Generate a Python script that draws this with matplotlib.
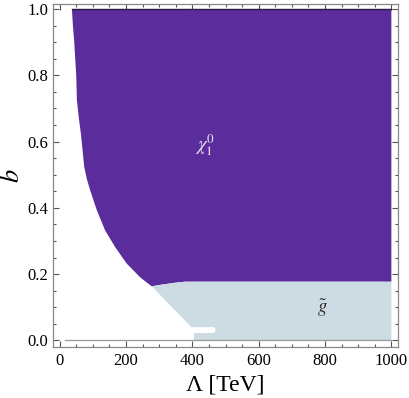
import matplotlib
matplotlib.use("Agg")
import matplotlib.pyplot as plt
from matplotlib.patches import Polygon
from matplotlib.ticker import MultipleLocator

plt.rcParams['font.family'] = ['Liberation Serif', 'DejaVu Serif']
plt.rcParams['mathtext.fontset'] = 'stix'

# Neutralino (chi_1^0) region: left boundary then bottom edge
chi_left_lam = [37, 40, 44, 50, 52, 58, 64, 69, 74, 82, 92, 112, 137, 167, 202, 242, 262, 278]
chi_left_b = [1.0, 0.95, 0.9, 0.8, 0.725, 0.67, 0.624, 0.575, 0.524, 0.487, 0.453, 0.393, 0.332, 0.282, 0.232, 0.191, 0.175, 0.163]
chi_bottom_lam = [278, 300, 341, 377, 1000]
chi_bottom_b = [0.163, 0.167, 0.173, 0.177, 0.177]

# Gluino region boundary (lower side, right to left)
gl_lower_lam = [1000, 405, 405, 462, 468, 470, 468, 462, 397, 278]
gl_lower_b = [0.0, 0.0, 0.022, 0.022, 0.024, 0.031, 0.038, 0.040, 0.040, 0.163]

purple = '#5b2c9c'
lightblue = '#cddbe2'

fig = plt.figure(figsize=(4.09, 3.98), dpi=100)
ax = fig.add_axes([53/409, 1-347/398, 345/409, 343/398])

chi_pts = list(zip(chi_left_lam, chi_left_b)) + list(zip(chi_bottom_lam[1:], chi_bottom_b[1:])) + [(1000, 1.0)]
ax.add_patch(Polygon(chi_pts, closed=True, facecolor=purple, edgecolor='none', zorder=2))
ax.plot([chi_left_lam[0], 1000], [1.0, 1.0], color='#2b1a45', lw=1.0, zorder=3)

gl_pts = list(zip(chi_bottom_lam, chi_bottom_b)) + list(zip(gl_lower_lam, gl_lower_b))
ax.add_patch(Polygon(gl_pts, closed=True, facecolor=lightblue, edgecolor='none', zorder=2))
ax.plot([17, 1000], [0.0, 0.0], color='#9a9a9a', lw=0.9, zorder=3)

ax.text(438, 0.59, r'$\chi_1^0$', color='#ece6f4', fontsize=13.5, ha='center', va='center', zorder=4)
ax.text(793, 0.097, r'$\tilde{g}$', color='#333333', fontsize=13.5, ha='center', va='center', zorder=4)

ax.set_xlim(-20, 1020)
ax.set_ylim(-0.02, 1.015)
ax.xaxis.set_minor_locator(MultipleLocator(50))
ax.yaxis.set_minor_locator(MultipleLocator(0.05))
ax.set_xticks([0, 200, 400, 600, 800, 1000])
ax.set_xticklabels(['0', '200', '400', '600', '800', '1000'])
ax.set_yticks([0.0, 0.2, 0.4, 0.6, 0.8, 1.0])
ax.set_yticklabels(['0.0', '0.2', '0.4', '0.6', '0.8', '1.0'])
ax.tick_params(which='both', direction='in', top=True, right=True, color='#555555', labelsize=12, width=0.8)
ax.tick_params(which='major', length=4.2)
ax.tick_params(which='minor', length=2.4)
ax.tick_params(axis='x', pad=4)
for s in ax.spines.values():
    s.set_color('#888888')
    s.set_linewidth(0.9)

ax.set_xlabel('Λ [TeV]', fontsize=17, labelpad=4)
ax.set_ylabel(r'$b$', fontsize=19, labelpad=2)

fig.savefig('out.png', dpi=100)
